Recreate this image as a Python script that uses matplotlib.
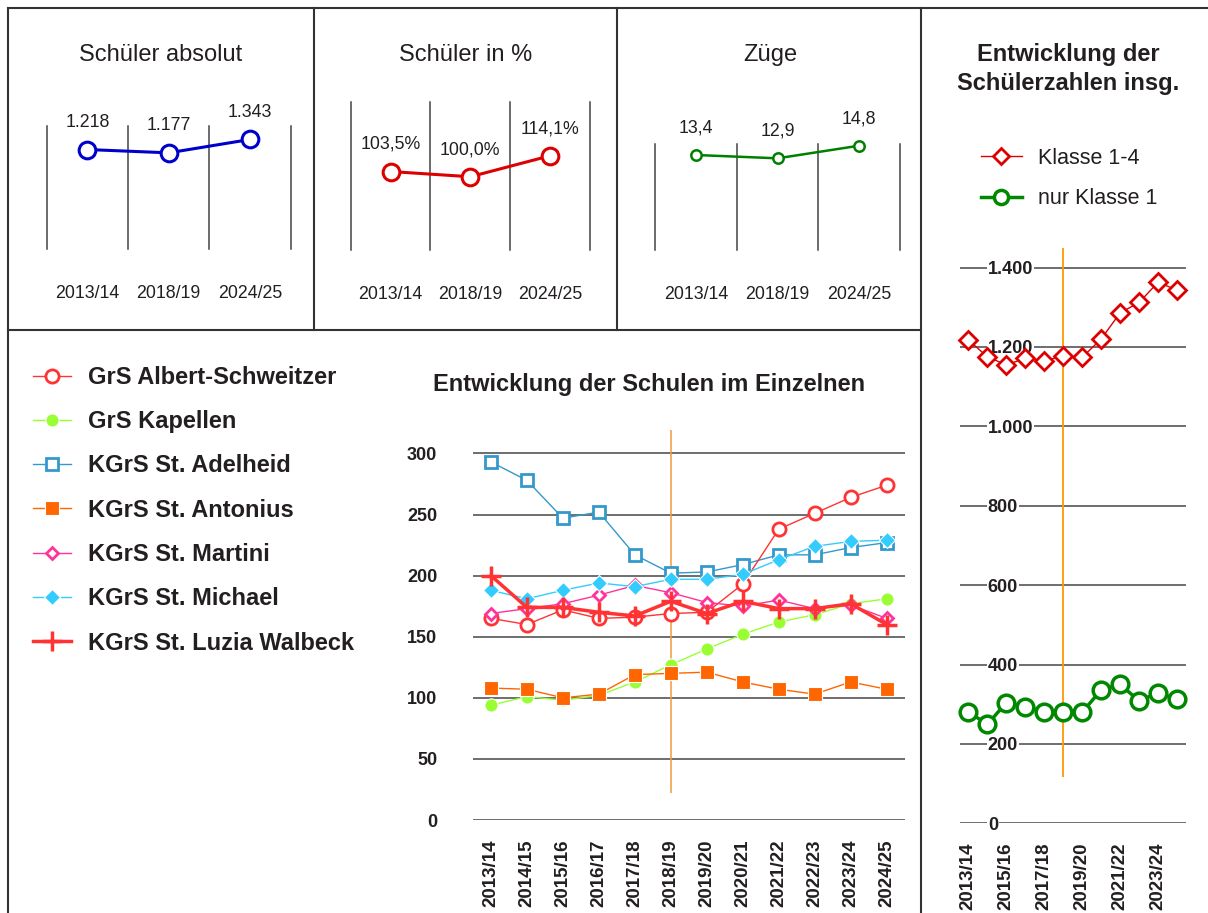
import matplotlib
matplotlib.use('Agg')
import matplotlib.pyplot as plt
from matplotlib.lines import Line2D
from matplotlib import font_manager

W, H, DPI = 1208, 913, 100

# ---------------- data ----------------
years = ['2013/14', '2014/15', '2015/16', '2016/17', '2017/18', '2018/19',
         '2019/20', '2020/21', '2021/22', '2022/23', '2023/24', '2024/25']
top_years = ['2013/14', '2018/19', '2024/25']
schueler_abs = [1218, 1177, 1343]
schueler_pct = [103.5, 100.0, 114.1]
zuege = [13.4, 12.9, 14.8]

albert = [165, 160, 172, 165, 166, 169, 170, 193, 238, 251, 264, 274]
kapellen = [94, 101, 98, 102, 113, 127, 140, 152, 162, 168, 177, 181]
adelheid = [293, 278, 247, 252, 217, 202, 203, 209, 217, 217, 223, 227]
antonius = [108, 107, 100, 103, 119, 120, 121, 113, 107, 103, 113, 107]
martini = [169, 173, 177, 184, 192, 186, 178, 175, 180, 173, 176, 165]
michael = [188, 181, 188, 194, 191, 197, 197, 201, 213, 224, 228, 229]
luzia = [200, 174, 174, 170, 167, 179, 169, 179, 173, 173, 177, 160]

klasse14 = [1218, 1175, 1155, 1171, 1165, 1177, 1174, 1220, 1286, 1312, 1363, 1343]
klasse1 = [281, 249, 304, 294, 281, 280, 280, 336, 350, 308, 329, 312]

school_names = ['GrS Albert-Schweitzer', 'GrS Kapellen', 'KGrS St. Adelheid',
                'KGrS St. Antonius', 'KGrS St. Martini', 'KGrS St. Michael',
                'KGrS St. Luzia Walbeck']
ref_year = '2018/19'

# ---------------- fonts ----------------
avail = {f.name for f in font_manager.fontManager.ttflist}
NARROW = 'Liberation Sans Narrow' if 'Liberation Sans Narrow' in avail else 'Liberation Sans'
SMALL = 14.5 if NARROW == 'Liberation Sans Narrow' else 12.8
plt.rcParams['font.family'] = ['Liberation Sans', 'DejaVu Sans']
TXT = '#231f20'


def de_num(v, dec=0):
    s = f'{v:,.{dec}f}'
    return s.replace(',', 'X').replace('.', ',').replace('X', '.')


fig = plt.figure(figsize=(W / DPI, H / DPI), dpi=DPI)


def px_axes(x0, y0, x1, y1):
    return fig.add_axes([x0 / W, 1 - y1 / H, (x1 - x0) / W, (y1 - y0) / H])


def fline(x0, y0, x1, y1, **kw):
    fig.add_artist(Line2D([x0 / W, x1 / W], [1 - y0 / H, 1 - y1 / H],
                          transform=fig.transFigure, color='#333333', lw=1.5, **kw))


# frame lines
fline(8, 8, W, 8)
fline(8, 8, 8, H)
fline(8, 330, 921, 330)
fline(314, 8, 314, 330)
fline(617, 8, 617, 330)
fline(921, 8, 921, H)


# ---------------- top small panels ----------------
def small_panel(box, ylim, values, labels, color, ms, mew, lw, title, title_x):
    ax = px_axes(*box)
    x = list(range(len(values)))
    ax.set_xlim(-0.5, len(values) - 0.5)
    ax.set_ylim(*ylim)
    for s in ax.spines.values():
        s.set_visible(False)
    for gx in [i - 0.5 for i in range(len(values) + 1)]:
        ax.axvline(gx, color='#444444', lw=1.1, clip_on=False)
    ax.plot(x, values, color=color, lw=lw, marker='o', ms=ms, mfc='white',
            mec=color, mew=mew, clip_on=False, zorder=3)
    for xi, v, lab in zip(x, values, labels):
        ax.annotate(lab, (xi, v), xytext=(0, 19.5), textcoords='offset points',
                    ha='center', va='center', fontsize=SMALL, family=NARROW, color=TXT)
    ax.set_xticks(x)
    ax.set_xticklabels(top_years, fontsize=SMALL, family=NARROW, color=TXT)
    ax.tick_params(axis='x', length=0, pad=26)
    ax.set_yticks([])
    fig.text(title_x / W, 1 - 55 / H, title, ha='center', va='center',
             fontsize=17, color=TXT)
    return ax


small_panel((46.7, 126, 290.7, 249.3), (-20, 1510), schueler_abs,
            [de_num(v) for v in schueler_abs], '#0000cc', 12, 2.2, 2.2,
            'Schüler absolut', 161)
small_panel((350.7, 102.3, 590, 250.3), (50.6, 150), schueler_pct,
            [de_num(v, 1) + '%' for v in schueler_pct], '#dd0000', 12, 2.2, 2.2,
            'Schüler in %', 466)
small_panel((655.4, 144, 899.6, 250), (-0.93, 15.06), zuege,
            [de_num(v, 1) for v in zuege], '#008000', 7.5, 1.8, 1.8,
            'Züge', 770)

# ---------------- main chart ----------------
ax = px_axes(473.3, 429, 905, 820)
xi = list(range(len(years)))
ax.set_xlim(-0.49, 11.51)
ax.set_ylim(0, 320)
for s in ax.spines.values():
    s.set_visible(False)
ax.set_yticks(range(0, 301, 50))
ax.yaxis.grid(True, color='#555555', lw=1.2)
ax.set_axisbelow(True)
ax.tick_params(axis='y', length=0, pad=26, labelsize=13)
ax.tick_params(axis='x', length=0, pad=14, labelsize=13.5)
ax.set_xticks(xi)
ax.set_xticklabels(years, rotation=90, fontweight='bold', color=TXT)
for lbl in ax.get_yticklabels():
    lbl.set_fontweight('bold')
    lbl.set_color(TXT)
ax.vlines(years.index(ref_year), 22, 319, color='#f39a3c', lw=1.1, zorder=1)

series_style = [
    (albert, dict(color='#ff3333', lw=1, marker='o', ms=9.5, mfc='white', mec='#ff3333', mew=2)),
    (kapellen, dict(color='#99ff33', lw=1, marker='o', ms=9.5, mfc='#99ff33', mec='white', mew=0.8)),
    (adelheid, dict(color='#3399cc', lw=1, marker='s', ms=9, mfc='white', mec='#3399cc', mew=2)),
    (antonius, dict(color='#ff6600', lw=1, marker='s', ms=10, mfc='#ff6600', mec='white', mew=0.8)),
    (martini, dict(color='#ff3399', lw=1, marker='D', ms=6.5, mfc='white', mec='#ff3399', mew=2)),
    (michael, dict(color='#33ccff', lw=1, marker='D', ms=8, mfc='#33ccff', mec='white', mew=0.8)),
    (luzia, dict(color='#ff3333', lw=2.5, marker='+', ms=14, mec='#ff3333', mew=2.5)),
]
order = [2, 0, 1, 3, 4, 5, 6]
handles = [None] * len(series_style)
for z, k in enumerate(order):
    vals, st = series_style[k]
    h, = ax.plot(xi, vals, zorder=3 + z, clip_on=False, **st)
    handles[k] = h

fig.text(649 / W, 1 - 384 / H, 'Entwicklung der Schulen im Einzelnen',
         ha='center', va='center', fontsize=17, fontweight='bold', color=TXT)

leg = fig.legend(handles, school_names, loc='upper left',
                 bbox_to_anchor=(33 / W, 1 - 366 / H), frameon=False,
                 prop=dict(size=17, weight='bold'), labelspacing=0.9,
                 handlelength=1.6, handletextpad=0.72, borderpad=0, borderaxespad=0)
for t in leg.get_texts():
    t.set_color(TXT)

# ---------------- right chart ----------------
axr = px_axes(960, 247.7, 1186, 823.3)
axr.set_xlim(-0.44, 11.47)
axr.set_ylim(0, 1450)
for s in axr.spines.values():
    s.set_visible(False)
axr.set_yticks(range(0, 1401, 200))
axr.set_yticklabels([de_num(v) for v in range(0, 1401, 200)])
axr.yaxis.grid(True, color='#555555', lw=1.2)
axr.set_axisbelow(True)
axr.tick_params(axis='y', length=0, pad=-20, labelsize=13)
for lbl in axr.get_yticklabels():
    lbl.set_horizontalalignment('left')
    lbl.set_fontweight('bold')
    lbl.set_color(TXT)
    lbl.set_bbox(dict(facecolor='white', edgecolor='none', pad=0.5))
axr.set_xticks(xi[::2])
axr.set_xticklabels(years[::2], rotation=90, fontweight='bold', color=TXT)
axr.tick_params(axis='x', length=0, pad=14, labelsize=13.5)
axr.vlines(years.index(ref_year), 116, 1448, color='#ff9900', lw=1.3, zorder=1)
h1, = axr.plot(xi, klasse14, color='#dd0000', lw=1, marker='D', ms=9.5,
               mfc='white', mec='#dd0000', mew=2, zorder=3, clip_on=False)
h2, = axr.plot(xi, klasse1, color='#008800', lw=2.5, marker='o', ms=12,
               mfc='white', mec='#008800', mew=2.5, zorder=3, clip_on=False)

fig.text(1068 / W, 1 - 69 / H, 'Entwicklung der\nSchülerzahlen insg.',
         ha='center', va='center', fontsize=17, fontweight='bold', color=TXT,
         linespacing=1.3)
leg2 = fig.legend([h1, h2], ['Klasse 1-4', 'nur Klasse 1'], loc='upper left',
                  bbox_to_anchor=(981 / W, 1 - 148 / H), frameon=False,
                  prop=dict(size=15.5), labelspacing=0.9, handlelength=1.9,
                  handletextpad=0.75, borderpad=0, borderaxespad=0,
                  markerscale=0.85)
for t in leg2.get_texts():
    t.set_color(TXT)

fig.savefig('out.png', dpi=DPI)
